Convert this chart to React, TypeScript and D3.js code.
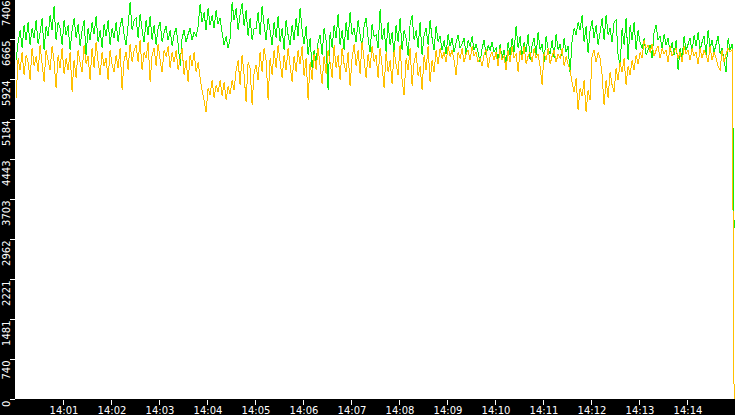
import React from "react";
import * as d3 from "d3";

const W = 735;
const H = 415;
const DOMAIN_START = new Date(2024, 0, 1, 14, 0, 0);
const DOMAIN_END = new Date(2024, 0, 1, 14, 15, 0);
const SAMPLE_START = new Date(2024, 0, 1, 14, 0, 1);
const SAMPLE_STEP_MS = 2500;
const Y_MAX = 7406;
const Y_TICKS = [0, 740, 1481, 2221, 2962, 3703, 4443, 5184, 5924, 6665, 7406];

const GREEN = [
  6283, 6616, 6838, 6505, 6931, 6653, 6986, 6561, 6875, 6690,
  7023, 6579, 6801, 7060, 6468, 6912, 6727, 7116, 6838, 7282,
  6653, 6986, 6875, 6561, 7023, 6746, 6931, 6468, 6838, 7060,
  6690, 6949, 6542, 6838, 7023, 6376, 6875, 6653, 6986, 6764,
  7097, 6616, 6838, 6505, 6949, 6727, 7023, 6561, 6875, 6690,
  6986, 6616, 6912, 7060, 6746, 6561, 6931, 7356, 6838, 7023,
  7060, 6690, 7134, 6838, 6616, 7023, 6746, 7097, 6653, 6931,
  6561, 6875, 6986, 6616, 6801, 6912, 6653, 6838, 6542, 6764,
  6875, 6579, 6172, 6690, 6838, 6616, 6764, 6875, 6653, 6801,
  6727, 6912, 7319, 6986, 7171, 6838, 7245, 6931, 7116, 6875,
  7208, 6949, 7060, 6801, 6561, 6727, 6505, 6690, 7356, 7023,
  7245, 6838, 7134, 7338, 6912, 7208, 6727, 7060, 6653, 6875,
  6875, 7171, 6746, 7282, 6931, 6653, 7060, 6838, 6561, 6986,
  6690, 7097, 6616, 6875, 6468, 7023, 6746, 6561, 6931, 6653,
  7060, 6727, 7245, 6838, 6579, 6912, 6376, 6690, 6135, 6468,
  6246, 6616, 6746, 6376, 6875, 6653, 5728, 6801, 6505, 6931,
  6690, 7134, 6561, 6838, 6468, 6986, 6653, 7171, 6746, 6875,
  6616, 7023, 6764, 6505, 6912, 7060, 6690, 6431, 6949, 6727,
  6746, 6505, 7227, 6653, 6875, 6431, 6986, 6561, 6801, 6376,
  6931, 6616, 7060, 6468, 6838, 6690, 6357, 6949, 7116, 6653,
  6838, 6505, 6986, 6376, 6746, 6875, 6561, 7023, 6690, 6468,
  6912, 6616, 6727, 6468, 6653, 6394, 6764, 6542, 6690, 6431,
  6616, 6746, 6505, 6579, 6690, 6376, 6653, 6542, 6727, 6468,
  6579, 6431, 6246, 6505, 6653, 6376, 6561, 6468, 6616, 6431,
  6505, 6246, 6579, 6320, 6468, 6191, 6616, 6376, 6690, 6431,
  6912, 6505, 6727, 6320, 6616, 6431, 6764, 6283, 6561, 6690,
  6376, 6801, 6468, 6579, 6246, 6727, 6505, 6394, 6653, 6320,
  6764, 6468, 6579, 6357, 6690, 6431, 6542, 6043, 6653, 6875,
  6746, 6986, 6838, 7116, 6616, 6912, 6413, 6838, 7023, 6690,
  6931, 6561, 6801, 7060, 6653, 7116, 6746, 6875, 6616, 6986,
  7023, 6376, 6172, 6875, 6561, 7060, 6283, 6931, 6653, 6986,
  6468, 6838, 6616, 6505, 6690, 6376, 6468, 6561, 6320, 6801,
  6931, 6653, 6727, 6505, 6764, 6561, 6690, 6431, 6616, 6376,
  6653, 6098, 6505, 6320, 6727, 6468, 6579, 6690, 6431, 6746,
  6542, 6801, 6468, 6616, 6727, 6376, 6838, 6505, 6653, 6431,
  6579, 6727, 6394, 6505, 6283, 6061, 6690, 6468, 6579, 3172,
];

const ORANGE = [
  5580, 6320, 6098, 6431, 6006, 6376, 6246, 5913, 6505, 6172,
  6357, 6061, 6561, 6209, 5876, 6468, 6283, 6098, 6542, 6246,
  5765, 6376, 6135, 6505, 6024, 6320, 6098, 6431, 5691, 6283,
  5950, 6468, 6246, 6061, 6561, 6209, 6357, 5913, 6505, 6135,
  6616, 6246, 6006, 6431, 6172, 6320, 5913, 6468, 6209, 6061,
  6376, 6135, 6505, 5728, 6283, 6431, 6098, 6579, 6246, 6468,
  6561, 6246, 6653, 6098, 6431, 6320, 6616, 5876, 6376, 6505,
  6172, 6579, 6283, 6061, 6468, 6357, 6542, 6135, 6431, 6246,
  6468, 6098, 6320, 6505, 6006, 6283, 5876, 6376, 6172, 6431,
  6061, 6246, 5950, 5728, 5543, 5321, 5765, 5636, 5913, 5580,
  5821, 5691, 5913, 5617, 5876, 5543, 5802, 5654, 5913, 5728,
  6098, 6283, 5821, 6376, 6006, 5506, 6246, 6135, 5451, 6061,
  6191, 5913, 6431, 6061, 6505, 6283, 5543, 6320, 6006, 6468,
  6135, 6561, 6246, 5950, 6376, 6098, 6505, 6172, 5876, 6357,
  6061, 6468, 6209, 6542, 5987, 6320, 5543, 6246, 5913, 6394,
  6098, 6505, 6172, 5839, 6357, 6024, 6468, 6246, 5950, 6561,
  6135, 6376, 5913, 6505, 6209, 6061, 6431, 5802, 6320, 6579,
  6172, 6468, 6024, 6616, 6283, 5950, 6394, 6135, 6542, 6246,
  6376, 5950, 6505, 6172, 5765, 6431, 6061, 6283, 5839, 6468,
  6209, 6006, 6561, 5913, 5636, 6320, 6098, 6505, 5802, 6246,
  6431, 5987, 6172, 5728, 6376, 6098, 6542, 5876, 6283, 6061,
  6468, 6209, 6505, 6320, 6431, 6246, 6542, 6357, 6468, 6283,
  6006, 6431, 6320, 6505, 6246, 6394, 6468, 6283, 6542, 6357,
  6431, 6246, 6320, 6172, 6394, 6468, 6135, 6357, 6431, 6283,
  6431, 6172, 6505, 6283, 6357, 6098, 6468, 6246, 6542, 6320,
  6394, 6061, 6468, 6283, 6542, 6209, 6357, 6431, 6246, 6505,
  6320, 6394, 6172, 5821, 6431, 6283, 6505, 6209, 6357, 6468,
  6246, 6394, 6320, 6505, 6172, 6357, 6209, 6098, 5876, 5691,
  5950, 5358, 5765, 5617, 5913, 5321, 5728, 5543, 6376, 6468,
  6246, 6431, 6320, 6006, 5451, 5913, 5580, 6061, 5821, 5691,
  6135, 5913, 6246, 6061, 6320, 5821, 6172, 6006, 6283, 6098,
  6376, 6209, 6431, 6320, 6653, 6505, 6561, 6431, 6579, 6357,
  6468, 6542, 6320, 6505, 6394, 6468, 6246, 6542, 6357, 6431,
  6505, 6320, 6431, 6246, 6542, 6394, 6468, 6283, 6505, 6357,
  6431, 6209, 6505, 6320, 6468, 6376, 6246, 6542, 6283, 6431,
  6320, 6172, 6098, 6468, 6246, 6394, 6505, 6431, 6468, 0,
];

const GREEN_COLOR = "#10ee10";
const ORANGE_COLOR = "#ffc000";

export default function App() {
  const x = d3.scaleTime().domain([DOMAIN_START, DOMAIN_END]).range([15.3, 735.3]);
  const y = d3.scaleLinear().domain([0, Y_MAX]).range([399.5, -0.5]);
  const timeAt = (i: number) => new Date(SAMPLE_START.getTime() + i * SAMPLE_STEP_MS);
  const line = d3
    .line<number>()
    .x((_d, i) => x(timeAt(i)))
    .y((d) => y(d));
  const xTicks = x.ticks(d3.timeMinute.every(1) as any).filter((d) => x(d) > 20 && x(d) < 730);
  const fmt = d3.timeFormat("%H:%M");
  const font = "'DejaVu Sans', sans-serif";

  return (
    <div style={{ position: "absolute", left: 0, top: 0, width: W, height: H }}>
      <svg width={W} height={H} style={{ display: "block" }}>
        <rect x={0} y={0} width={W} height={H} fill="#ffffff" />
        <g clipPath="url(#plotclip)">
          <defs>
            <clipPath id="plotclip">
              <rect x={15} y={0} width={W - 15} height={400} />
            </clipPath>
          </defs>
          <path d={line(GREEN) || ""} fill="none" stroke={GREEN_COLOR} strokeWidth={1} shapeRendering="crispEdges" />
          <path d={line(ORANGE) || ""} fill="none" stroke={ORANGE_COLOR} strokeWidth={1} shapeRendering="crispEdges" />
        </g>
        <rect x={0} y={0} width={15} height={H} fill="#000" />
        <rect x={0} y={399} width={W} height={H - 399} fill="#000" />
        {Y_TICKS.map((v) => {
          const ty = Math.round(y(v) - 0.5) + 0.5;
          return (
            <g key={v}>
              <line x1={10} x2={15} y1={ty} y2={ty} stroke="#fff" strokeWidth={1} shapeRendering="crispEdges" />
              <text
                transform={`translate(9.5,${ty + 1}) rotate(-90)`}
                textAnchor="end"
                fill="#fff"
                fontFamily={font}
                fontSize={10}
              >
                {v}
              </text>
            </g>
          );
        })}
        {xTicks.map((d) => {
          const tx = Math.floor(x(d)) + 0.5;
          return (
            <g key={+d}>
              <line x1={tx} x2={tx} y1={400} y2={405} stroke="#fff" strokeWidth={1} shapeRendering="crispEdges" />
              <text x={tx + 0.5} y={414} textAnchor="middle" fill="#fff" fontFamily={font} fontSize={10}>
                {fmt(d)}
              </text>
            </g>
          );
        })}
      </svg>
    </div>
  );
}
